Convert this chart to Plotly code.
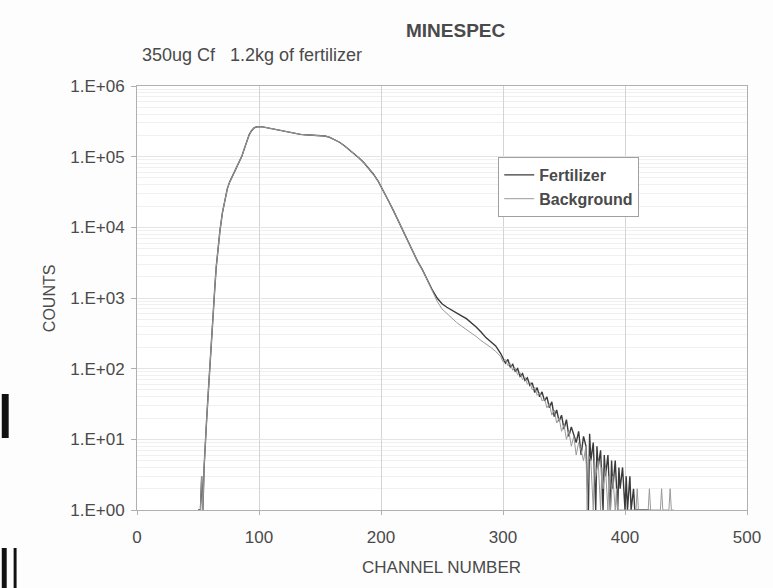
import plotly.graph_objects as go

# ---------------- data ----------------
rise_channels = [50, 52, 53, 54, 55, 56, 57, 58, 59, 60, 61, 62, 63, 64, 65, 66, 67, 68, 70, 72, 74, 76, 78,
                 80, 82, 84, 86, 88, 90, 92, 94, 96, 98, 100, 102, 104, 106, 108, 110, 114, 118, 122, 126,
                 130, 134, 138, 142, 146, 150, 154, 158, 162, 166, 170, 174, 178, 182, 186, 190, 194, 198,
                 202, 206, 210, 214, 218, 222, 226, 230, 234, 238]
rise_counts = [1, 1, 3, 1, 4, 10, 18, 35, 70, 150, 260, 450, 900, 1600, 2800, 4500, 6500, 9000, 16000, 25000,
               35000, 44000, 52000, 60000, 70000, 85000, 102000, 130000, 170000, 205000, 235000, 255000,
               265000, 268000, 266000, 262000, 258000, 254000, 249000, 240000, 232000, 224000, 216000,
               211000, 207000, 204000, 202000, 200000, 199000, 196000, 188000, 175000, 160000, 143000,
               126000, 110000, 96000, 82000, 68000, 56000, 44000, 33000, 24000, 17500, 12500, 8800, 6200,
               4500, 3300, 2500, 1800]

fert_tail_channels = [242, 246, 250, 254, 258, 262, 266, 270, 274, 278, 282, 286, 290, 294, 298,
                      300, 302, 304, 306, 308, 310, 312, 314, 316, 318, 320, 322, 324, 326, 328, 330,
                      332, 334, 336, 338, 340, 342, 344, 346, 348, 350, 352, 354, 356, 358, 360, 362,
                      364, 366, 368, 370, 371, 372, 374, 376, 377, 378, 380, 382, 383, 384, 386, 388,
                      389, 390, 392, 394, 395, 396, 398, 400, 401, 402, 404, 405, 407, 408, 420]
fert_tail_counts = [1300, 1000, 830, 740, 680, 610, 560, 510, 450, 390, 330, 275, 240, 210, 165,
                    140, 120, 135, 105, 115, 92, 100, 78, 85, 68, 74, 58, 63, 46, 54, 40,
                    47, 35, 40, 28, 34, 21, 26, 18, 22, 14, 19, 11, 15, 12, 9, 13,
                    6, 11, 8, 1, 12, 5, 9, 1, 8, 4, 7, 1, 6, 3, 6, 1,
                    5, 2, 5, 1, 4, 2, 4, 1, 3, 1, 3, 1, 2, 1, 1]

bkg_tail_channels = [242, 246, 250, 254, 258, 262, 266, 270, 274, 278, 282, 286, 290, 294, 298,
                     300, 302, 304, 306, 308, 310, 312, 314, 316, 318, 320, 322, 324, 326, 328, 330,
                     332, 334, 336, 338, 340, 342, 344, 346, 348, 350, 352, 354, 356, 358, 360, 362,
                     364, 366, 368, 369, 370, 372, 374, 375, 376, 378, 380, 381, 382, 384, 386, 387,
                     388, 390, 392, 393, 394, 409, 410, 411, 419, 420, 421, 429, 430, 431, 436, 437, 438, 440]
bkg_tail_counts = [1250, 900, 700, 600, 510, 450, 400, 360, 320, 285, 250, 225, 200, 175, 150,
                   125, 135, 110, 118, 95, 102, 82, 88, 70, 76, 60, 65, 50, 55, 42, 46,
                   35, 38, 28, 32, 22, 26, 17, 20, 13, 16, 10, 13, 8, 11, 6, 9,
                   7, 5, 8, 1, 6, 5, 1, 5, 3, 5, 1, 4, 2, 4, 1, 3,
                   1, 3, 1, 2, 1, 1, 2, 1, 1, 2, 1, 1, 2, 1, 1, 2, 1, 1]

fert_channels = rise_channels + fert_tail_channels
fert_counts = rise_counts + fert_tail_counts
bkg_channels = rise_channels + bkg_tail_channels
bkg_counts = rise_counts + bkg_tail_counts

x_tick_vals = [0, 100, 200, 300, 400, 500]
y_tick_vals = [1, 10, 100, 1000, 10000, 100000, 1000000]
y_tick_text = ["1.E+00", "1.E+01", "1.E+02", "1.E+03", "1.E+04", "1.E+05", "1.E+06"]

# ---------------- figure ----------------
W, H = 773, 588
L, R, T, B = 137, 755, 86, 510
PW, PH = R - L, B - T

def px(xp):
    return (xp - L) / PW

def py(yp):
    return (B - yp) / PH

FONT = "Liberation Sans, Arial, sans-serif"
TXT = "#4a4a4a"

fig = go.Figure()
fig.add_trace(go.Scatter(x=fert_channels, y=fert_counts, mode="lines", name="Fertilizer",
                         line=dict(color="#3a3a3a", width=1.4)))
fig.add_trace(go.Scatter(x=bkg_channels, y=bkg_counts, mode="lines", name="Background",
                         line=dict(color="#9a9a9a", width=1.0)))

fig.update_layout(
    width=W, height=H,
    margin=dict(l=L, r=W - R, t=T, b=H - B),
    paper_bgcolor="#fdfdfd", plot_bgcolor="#ffffff",
    font=dict(family=FONT, size=15, color=TXT),
    showlegend=True,
    legend=dict(x=px(503), y=py(157), xanchor="left", yanchor="top",
                bgcolor="#ffffff", bordercolor="#a0a0a0", borderwidth=1,
                font=dict(family=FONT, size=16, color=TXT, weight="bold"), tracegroupgap=0,
                itemwidth=30),
)

fig.update_xaxes(range=[0, 500], tickvals=x_tick_vals, showgrid=True, gridcolor="#d4d4d4",
                 gridwidth=1, zeroline=False, showline=True, linecolor="#b0b0b0", mirror=True,
                 ticks="outside", ticklen=4, tickcolor="#b0b0b0", ticklabelstandoff=8,
                 tickfont=dict(family=FONT, size=17, color=TXT))
fig.update_yaxes(type="log", range=[0, 6], tickvals=y_tick_vals, ticktext=y_tick_text,
                 showgrid=True, gridcolor="#e4e4e4", gridwidth=1, zeroline=False,
                 showline=True, linecolor="#b0b0b0", mirror=True,
                 ticks="outside", ticklen=5, tickcolor="#b0b0b0", ticklabelstandoff=3,
                 tickfont=dict(family=FONT, size=17, color=TXT),
                 minor=dict(dtick="D1", showgrid=True, gridcolor="#f0f0f0", ticks=""))

fig.add_annotation(text="<b>MINESPEC</b>", x=px(460), y=py(30), xref="paper", yref="paper",
                   xanchor="center", yanchor="middle",
                   showarrow=False, font=dict(family=FONT, size=19, color=TXT))
fig.add_annotation(text="350ug Cf   1.2kg of fertilizer", x=px(140), y=py(55), xref="paper",
                   yref="paper", xanchor="left", yanchor="middle", showarrow=False,
                   font=dict(family=FONT, size=18, color=TXT))
fig.add_annotation(text="COUNTS", x=px(48), y=py(298), xref="paper", yref="paper", textangle=-90,
                   xanchor="center", yanchor="middle",
                   showarrow=False, font=dict(family=FONT, size=16, color=TXT))
fig.add_annotation(text="CHANNEL NUMBER", x=px(445), y=py(567), xref="paper", yref="paper",
                   xanchor="center", yanchor="middle",
                   showarrow=False, font=dict(family=FONT, size=17, color=TXT))

# scan artifacts at the left edge of the page
for x0, x1, y0, y1 in [(0, 7, 394, 438), (0, 5, 548, 588), (12, 15, 548, 588)]:
    fig.add_shape(type="rect", xref="paper", yref="paper", x0=px(x0), x1=px(x1), y0=py(y1), y1=py(y0),
                  fillcolor="#111111", line=dict(width=0), layer="above")

fig.write_html("out.html")
